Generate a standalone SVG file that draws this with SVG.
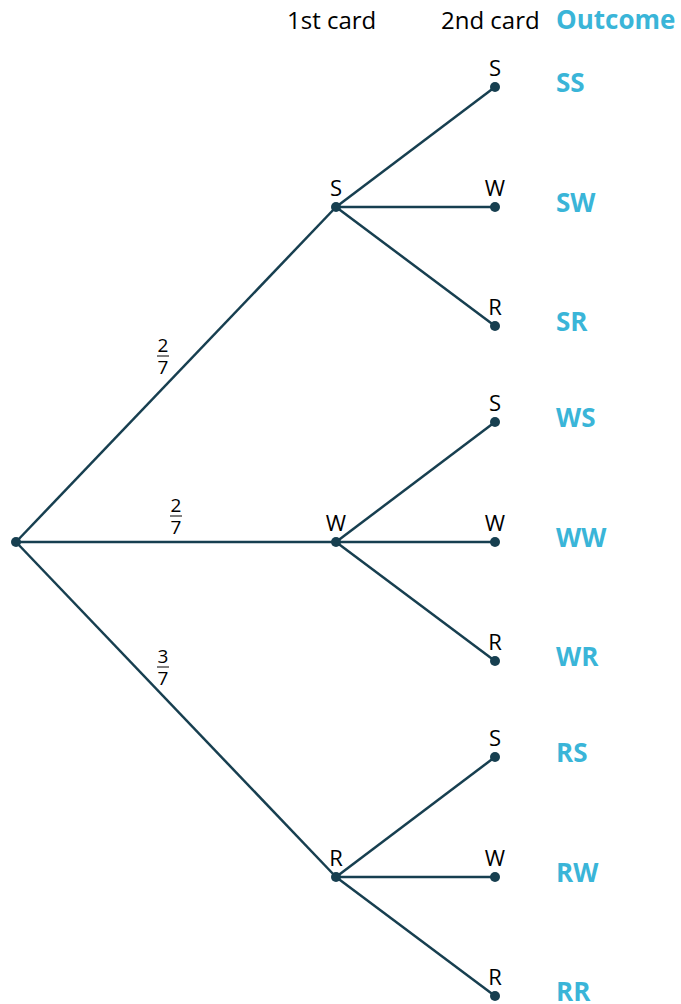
<svg xmlns="http://www.w3.org/2000/svg" width="681" height="1004" viewBox="0 0 681 1004">
<style>
.e{stroke:#173f50;stroke-width:2.5;fill:none}
.d{fill:#173f50}
.h{font-family:"Open Sans","Liberation Sans",sans-serif;font-size:24px;fill:#000}
.l{font-family:"Open Sans","Liberation Sans",sans-serif;font-size:22px;fill:#000;text-anchor:middle}
.f{font-family:"Open Sans","Liberation Sans",sans-serif;font-size:19px;fill:#000;text-anchor:middle}
.o{font-family:"Open Sans","Liberation Sans",sans-serif;font-size:26px;font-weight:bold;fill:#3ab5d8}
</style>
<rect width="681" height="1004" fill="#fff"/>
<g id="headers">
<text class="h" x="287" y="29">1st card</text>
<text class="h" x="441" y="29">2nd card</text>
<text class="o" x="556" y="29">Outcome</text>
</g>
<g id="connectors">
<line class="e" x1="16" y1="542" x2="336" y2="207"/>
<line class="e" x1="16" y1="542" x2="336" y2="542"/>
<line class="e" x1="16" y1="542" x2="336" y2="877"/>
<line class="e" x1="336" y1="207" x2="495" y2="87"/>
<line class="e" x1="336" y1="207" x2="495" y2="207"/>
<line class="e" x1="336" y1="207" x2="495" y2="326"/>
<line class="e" x1="336" y1="542" x2="495" y2="422"/>
<line class="e" x1="336" y1="542" x2="495" y2="542"/>
<line class="e" x1="336" y1="542" x2="495" y2="661"/>
<line class="e" x1="336" y1="877" x2="495" y2="757"/>
<line class="e" x1="336" y1="877" x2="495" y2="877"/>
<line class="e" x1="336" y1="877" x2="495" y2="996"/>
</g>
<g id="fractions">
<text class="f" x="163" y="352">2</text><line x1="157" y1="356" x2="169" y2="356" stroke="#000" stroke-width="1"/><text class="f" x="163" y="374">7</text>
<text class="f" x="176" y="512">2</text><line x1="170" y1="516" x2="182" y2="516" stroke="#000" stroke-width="1"/><text class="f" x="176" y="534">7</text>
<text class="f" x="163" y="663">3</text><line x1="157" y1="667" x2="169" y2="667" stroke="#000" stroke-width="1"/><text class="f" x="163" y="685">7</text>
</g>
<g id="root"><circle class="d" cx="16" cy="542" r="5"/></g>
<g id="n-S"><circle class="d" cx="336" cy="207" r="5"/><text class="l" x="336" y="196">S</text></g>
<g id="n-W"><circle class="d" cx="336" cy="542" r="5"/><text class="l" x="336" y="531">W</text></g>
<g id="n-R"><circle class="d" cx="336" cy="877" r="5"/><text class="l" x="336" y="866">R</text></g>
<g id="n-SS"><circle class="d" cx="495" cy="87" r="5"/><text class="l" x="495" y="76">S</text><text class="o" x="556" y="92">SS</text></g>
<g id="n-SW"><circle class="d" cx="495" cy="207" r="5"/><text class="l" x="495" y="196">W</text><text class="o" x="556" y="212">SW</text></g>
<g id="n-SR"><circle class="d" cx="495" cy="326" r="5"/><text class="l" x="495" y="315">R</text><text class="o" x="556" y="331">SR</text></g>
<g id="n-WS"><circle class="d" cx="495" cy="422" r="5"/><text class="l" x="495" y="411">S</text><text class="o" x="556" y="427">WS</text></g>
<g id="n-WW"><circle class="d" cx="495" cy="542" r="5"/><text class="l" x="495" y="531">W</text><text class="o" x="556" y="547">WW</text></g>
<g id="n-WR"><circle class="d" cx="495" cy="661" r="5"/><text class="l" x="495" y="650">R</text><text class="o" x="556" y="666">WR</text></g>
<g id="n-RS"><circle class="d" cx="495" cy="757" r="5"/><text class="l" x="495" y="746">S</text><text class="o" x="556" y="762">RS</text></g>
<g id="n-RW"><circle class="d" cx="495" cy="877" r="5"/><text class="l" x="495" y="866">W</text><text class="o" x="556" y="882">RW</text></g>
<g id="n-RR"><circle class="d" cx="495" cy="996" r="5"/><text class="l" x="495" y="985">R</text><text class="o" x="556" y="1001">RR</text></g>
</svg>
